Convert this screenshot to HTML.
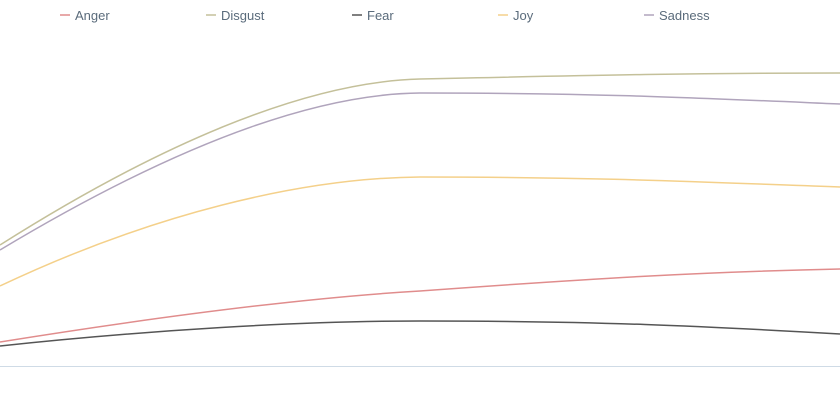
<!DOCTYPE html>
<html><head><meta charset="utf-8"><style>
body{margin:0;background:#fff;width:840px;height:400px;overflow:hidden}
text{font-family:"Liberation Sans",sans-serif;font-size:13px;fill:#5a6b7b}
</style></head><body>
<svg width="840" height="400" viewBox="0 0 840 400">
<g stroke-width="1.5">
<line x1="60" y1="15" x2="70" y2="15" stroke="#e08c8c"/><text x="75" y="20">Anger</text>
<line x1="206" y1="15" x2="216" y2="15" stroke="#c4c09a"/><text x="221" y="20">Disgust</text>
<line x1="352" y1="15" x2="362" y2="15" stroke="#555"/><text x="367" y="20">Fear</text>
<line x1="498" y1="15" x2="508" y2="15" stroke="#f4d08a"/><text x="513" y="20">Joy</text>
<line x1="644" y1="15" x2="654" y2="15" stroke="#b0a4bc"/><text x="659" y="20">Sadness</text>
</g>
<line x1="0" y1="366.5" x2="840" y2="366.5" stroke="#cfdbe6" stroke-width="1"/>
<g fill="none" stroke-width="1.5">
<path d="M0,245 C150,150 300,82 420,79 C600,75 700,73 840,73" stroke="#c4c09a"/>
<path d="M0,250 C150,160 300,94 420,93 C600,93 700,98 840,104" stroke="#b0a4bc"/>
<path d="M0,286 C150,215 300,178 420,177 C600,177 700,182 840,187" stroke="#f4d08a"/>
<path d="M0,342 C150,318 300,298 420,291 C600,278 700,272 840,269" stroke="#e08c8c"/>
<path d="M0,346 C150,330 300,321 420,321 C600,321 700,326 840,334" stroke="#555"/>
</g>
</svg>
</body></html>
